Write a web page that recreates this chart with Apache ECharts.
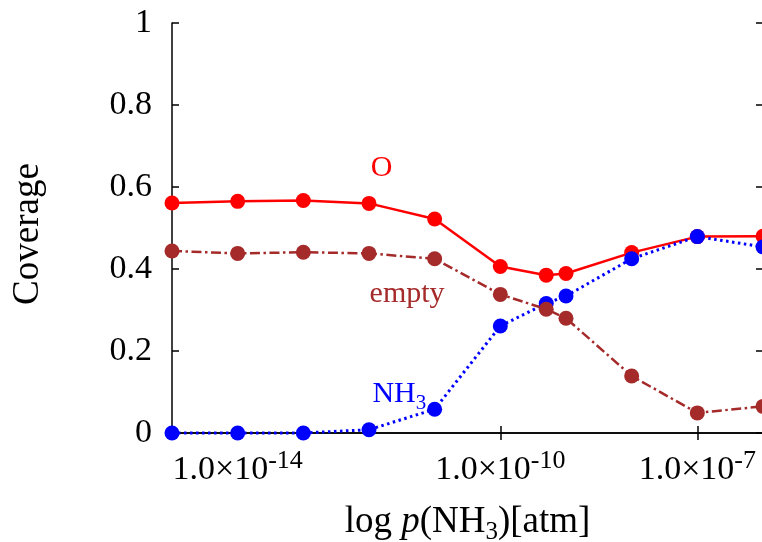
<!DOCTYPE html>
<html>
<head>
<meta charset="utf-8">
<script src="https://cdn.jsdelivr.net/npm/echarts@6/dist/echarts.min.js"></script>
<style>
html, body { margin: 0; padding: 0; background: #fff; }
#chart { width: 762px; height: 542px; }
</style>
</head>
<body>
<div id="chart"></div>
<script>
// partial pressure of NH3 [atm]
const pressure = [1e-15, 1e-14, 1e-13, 1e-12, 1e-11, 1e-10, 5e-10, 1e-9, 1e-8, 1e-7, 1e-6];
const coverO = [0.561, 0.565, 0.567, 0.560, 0.522, 0.406, 0.385, 0.389, 0.440, 0.479, 0.480];
const coverNH3 = [0.000, 0.000, 0.000, 0.008, 0.058, 0.261, 0.316, 0.334, 0.425, 0.479, 0.454];
const coverEmpty = [0.444, 0.438, 0.441, 0.438, 0.425, 0.338, 0.302, 0.280, 0.139, 0.049, 0.065];
const xTicks = [1e-14, 1e-10, 1e-7];
const xTickExp = ['-14', '-10', '-7'];

const FONT = 'Liberation Serif';
const RED = '#ff0000', BLUE = '#0000ff', BROWN = '#a52a2a';

function pairs(ys) {
    return pressure.map((p, i) => [p, ys[i]]);
}

function tagPoint(coord, text, color, rich) {
    return {
        symbol: 'circle',
        symbolSize: 1,
        itemStyle: { color: 'rgba(0,0,0,0)' },
        silent: true,
        label: {
            show: true, position: 'inside', formatter: text,
            color: color, fontFamily: FONT, fontSize: 30, rich: rich || {}
        },
        data: [{ coord: coord }]
    };
}

const chart = echarts.init(document.getElementById('chart'));

const tickStyle = { show: true, inside: true, length: 7, lineStyle: { color: '#000', width: 1.5 } };
const lineStyleAxis = { show: true, lineStyle: { color: '#000', width: 1.5 } };

chart.setOption({
    animation: false,
    grid: { left: 172, top: 23, width: 591, height: 410, outerBoundsMode: 'none', containLabel: false },
    xAxis: [{
        type: 'log', logBase: 10, min: 1e-15, max: 1e-6,
        position: 'bottom',
        axisLine: lineStyleAxis,
        axisTick: Object.assign({ customValues: xTicks }, tickStyle),
        splitLine: { show: false },
        minorTick: { show: false },
        axisLabel: {
            customValues: xTicks,
            margin: 15,
            color: '#000',
            fontFamily: FONT,
            fontSize: 34,
            lineHeight: 44,
            formatter: function (v) {
                let i = xTicks.findIndex(t => Math.abs(Math.log10(t) - Math.log10(v)) < 1e-6);
                if (i < 0) return '';
                return '1.0×10{s|' + xTickExp[i] + '}';
            },
            rich: {
                s: { fontFamily: FONT, fontSize: 26, color: '#000', lineHeight: 14, verticalAlign: 'top' }
            }
        },
        name: '{a|log }{i|p}{a|(NH}{s|3}{a|)[atm]}',
        nameLocation: 'middle',
        nameGap: 66,
        nameTextStyle: {
            fontFamily: FONT,
            fontSize: 37,
            rich: {
                a: { fontFamily: FONT, fontSize: 37, color: '#000', lineHeight: 46 },
                i: { fontFamily: FONT, fontSize: 37, color: '#000', lineHeight: 46, fontStyle: 'italic' },
                s: { fontFamily: FONT, fontSize: 25, color: '#000', lineHeight: 14, verticalAlign: 'bottom' }
            }
        }
    }, {
        type: 'log', logBase: 10, min: 1e-15, max: 1e-6,
        position: 'top',
        axisLine: lineStyleAxis,
        axisTick: Object.assign({ customValues: xTicks }, tickStyle),
        axisLabel: { show: false },
        splitLine: { show: false }
    }],
    yAxis: [{
        type: 'value', min: 0, max: 1, interval: 0.2,
        position: 'left',
        axisLine: lineStyleAxis,
        axisTick: tickStyle,
        splitLine: { show: false },
        axisLabel: { color: '#000', fontFamily: FONT, fontSize: 34, margin: 20 },
        name: 'Coverage',
        nameLocation: 'middle',
        nameGap: 125,
        nameTextStyle: { color: '#000', fontFamily: FONT, fontSize: 37, padding: [0, 12, 0, 0] }
    }, {
        type: 'value', min: 0, max: 1, interval: 0.2,
        position: 'right',
        axisLine: lineStyleAxis,
        axisTick: tickStyle,
        splitLine: { show: false },
        axisLabel: { show: false }
    }],
    series: [{
        name: 'O',
        type: 'line',
        data: pairs(coverO),
        clip: false,
        symbol: 'circle', symbolSize: 15,
        itemStyle: { color: RED },
        lineStyle: { color: RED, width: 2.5 },
        markPoint: tagPoint([1.55e-12, 0.645], 'O', RED)
    }, {
        name: 'NH3',
        type: 'line',
        data: pairs(coverNH3),
        clip: false,
        symbol: 'circle', symbolSize: 15,
        itemStyle: { color: BLUE },
        lineStyle: { color: BLUE, width: 3, type: [2.5, 3.5] },
        markPoint: tagPoint([2.9e-12, 0.094], '{n|NH}{s|3}', BLUE, {
            n: { fontFamily: FONT, fontSize: 30, color: BLUE, lineHeight: 40 },
            s: { fontFamily: FONT, fontSize: 21, color: BLUE, lineHeight: 16, verticalAlign: 'bottom' }
        })
    }, {
        name: 'empty',
        type: 'line',
        data: pairs(coverEmpty),
        clip: false,
        symbol: 'circle', symbolSize: 15,
        itemStyle: { color: BROWN },
        lineStyle: { color: BROWN, width: 2.5, type: [10, 3.5, 2.5, 3.5] },
        markPoint: tagPoint([3.8e-12, 0.338], 'empty', BROWN)
    }]
});
</script>
</body>
</html>
